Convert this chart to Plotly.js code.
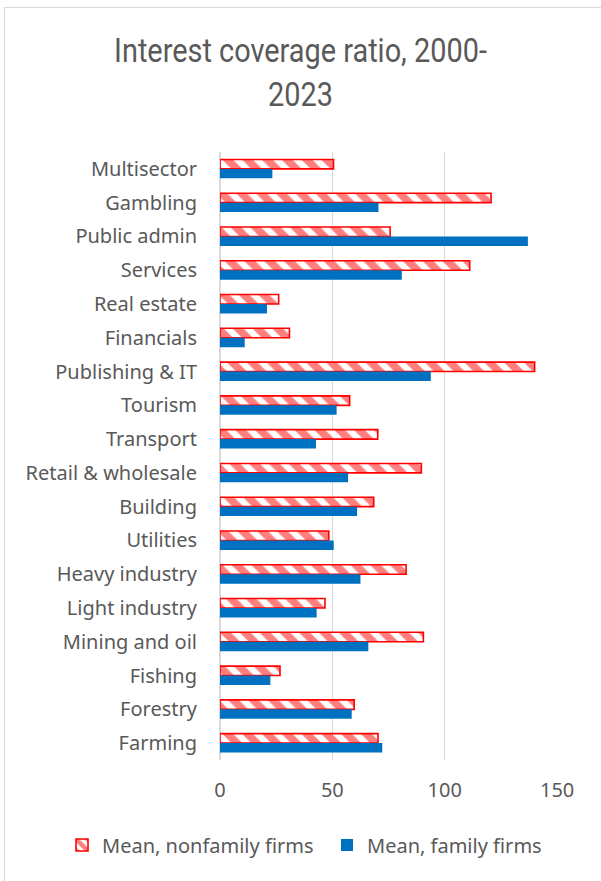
<!DOCTYPE html>
<html>
<head>
<meta charset="utf-8">
<script src="https://cdn.plot.ly/plotly-3.0.1.min.js"></script>
<style>
  html, body { margin: 0; padding: 0; background: #fff; }
  #wrap { position: relative; width: 601px; height: 881px; }
  #chart { position: absolute; left: 0; top: 0; width: 601px; height: 881px; }
  #bl { position: absolute; left: 4px; top: 7px; width: 1px; height: 874px; background: #d9d9d9; }
  #bt { position: absolute; left: 4px; top: 7px; width: 597px; height: 1px; background: #d9d9d9; }
</style>
</head>
<body>
<div id="wrap">
  <div id="chart"></div>
  <div id="bl"></div>
  <div id="bt"></div>
</div>
<script>
const categories = ["Multisector", "Gambling", "Public admin", "Services", "Real estate", "Financials",
  "Publishing & IT", "Tourism", "Transport", "Retail & wholesale", "Building", "Utilities",
  "Heavy industry", "Light industry", "Mining and oil", "Fishing", "Forestry", "Farming"];
const nonfamily = [50.5, 120.6, 75.7, 111.1, 26.1, 30.9, 140.0, 57.7, 70.2, 89.6, 68.4, 48.4, 82.8, 46.7, 90.5, 26.7, 59.7, 70.3];
const family = [23.3, 70.5, 137.0, 80.9, 20.9, 11.0, 93.8, 51.9, 42.7, 57.0, 61.0, 50.6, 62.5, 43.0, 66.0, 22.4, 58.6, 72.2];
const xTicks = [0, 50, 100, 150];
const seriesNames = ["Mean, nonfamily firms", "Mean, family firms"];

const FONT = "'Noto Sans', 'Open Sans', sans-serif";
const GREY = "#595959";

const traces = [
  {
    type: "bar", orientation: "h", name: seriesNames[0],
    y: categories, x: nonfamily,
    marker: {
      color: "#ffffff",
      line: { color: "#ff0000", width: 1.6 },
      pattern: { shape: "\\", fgcolor: "#ff0000", bgcolor: "#ffffff", size: 14, solidity: 0.55, fillmode: "overlay" }
    },
    hoverinfo: "x+y"
  },
  {
    type: "bar", orientation: "h", name: seriesNames[1],
    y: categories, x: family,
    marker: { color: "#0070c0", line: { width: 0 } },
    hoverinfo: "x+y"
  }
];

const layout = {
  width: 601, height: 881,
  paper_bgcolor: "#ffffff", plot_bgcolor: "#ffffff",
  margin: { l: 220, r: 43, t: 152, b: 121 },
  font: { family: FONT, color: GREY, size: 20 },
  title: {
    text: "Interest coverage ratio, 2000-<br>2023",
    font: { family: "Roboto, sans-serif", size: 34, color: GREY },
    x: 0.5, xref: "container", xanchor: "center",
    y: 1 - 62 / 881, yref: "container", yanchor: "top"
  },
  barmode: "group",
  bargap: 0.44,
  bargroupgap: 0,
  xaxis: {
    range: [0, 150.4],
    tickvals: xTicks,
    ticktext: xTicks.map(String),
    showgrid: true, gridcolor: "#d9d9d9", gridwidth: 1.5,
    zeroline: true, zerolinecolor: "#d9d9d9", zerolinewidth: 1.5,
    showline: false,
    ticks: "", ticklabelstandoff: 16,
    tickfont: { family: FONT, size: 20, color: GREY },
    fixedrange: true
  },
  yaxis: {
    type: "category",
    autorange: "reversed",
    showgrid: false, zeroline: false, showline: false,
    ticks: "", ticklabelstandoff: 22,
    tickfont: { family: FONT, size: 20, color: GREY },
    fixedrange: true
  },
  showlegend: true,
  legend: {
    orientation: "h",
    x: (62 - 220) / 338, xref: "paper", xanchor: "left",
    y: (760 - 845) / 608, yref: "paper", yanchor: "middle",
    font: { family: FONT, size: 20, color: GREY },
    itemwidth: 30,
    entrywidth: 220, entrywidthmode: "pixels",
    traceorder: "normal"
  }
};

Plotly.newPlot("chart", traces, layout, { displayModeBar: false, staticPlot: true }).then(function () {
  // condense the title horizontally, like the narrow face of the original
  const t = document.querySelector(".gtitle");
  if (t) {
    const cx = 300.5;
    t.setAttribute("transform", "translate(" + cx + ",0) scale(0.85,1) translate(" + (-cx) + ",0)");
  }
});
</script>
</body>
</html>
